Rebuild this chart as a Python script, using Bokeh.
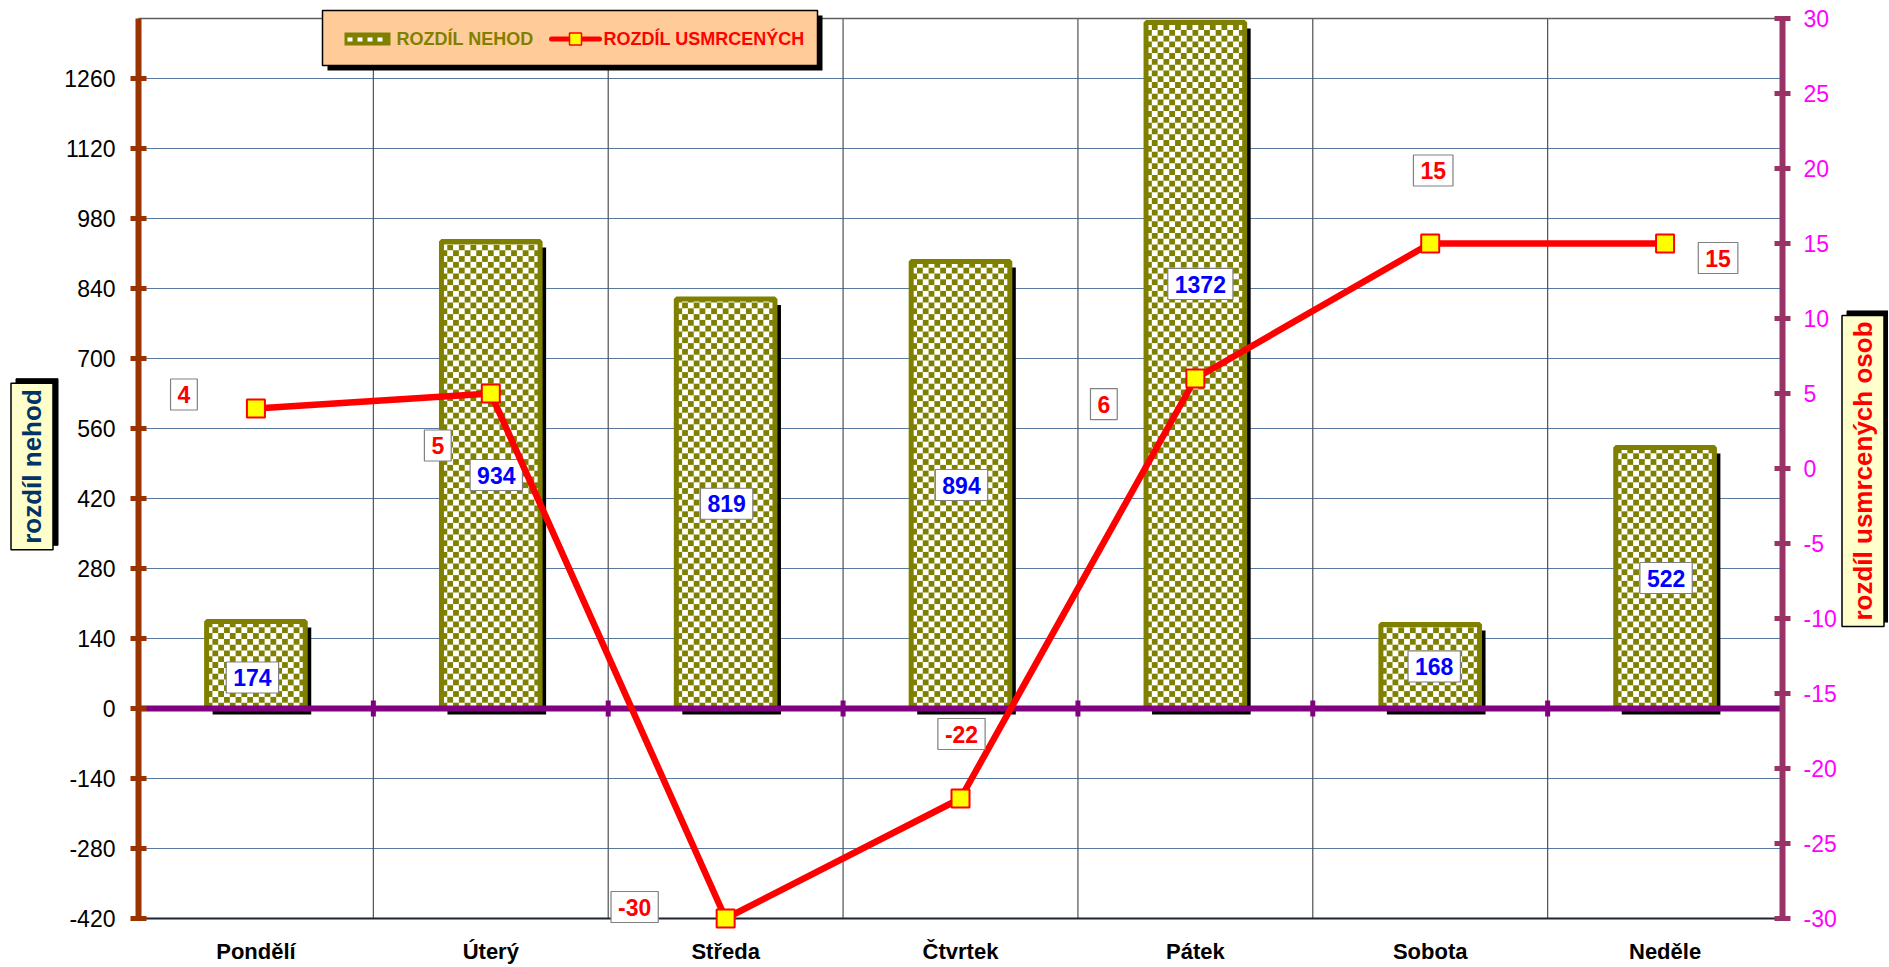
import math
from bokeh.plotting import figure
from bokeh.models import Range1d, LinearAxis, FixedTicker
from bokeh.core.properties import value
from bokeh.embed import file_html
from bokeh.resources import INLINE

# ---------------- data ----------------
days = ["Pondělí", "Úterý", "Středa", "Čtvrtek", "Pátek", "Sobota", "Neděle"]
rozdil_nehod = [174, 934, 819, 894, 1372, 168, 522]
rozdil_usmrcenych = [4, 5, -30, -22, 6, 15, 15]
left_ticks = [-420, -280, -140, 0, 140, 280, 420, 560, 700, 840, 980, 1120, 1260]
right_ticks = [-30, -25, -20, -15, -10, -5, 0, 5, 10, 15, 20, 25, 30]
series_names = ["ROZDÍL NEHOD", "ROZDÍL USMRCENÝCH"]
axis_titles = ["rozdíl nehod", "rozdíl usmrcených osob"]

# ---------------- geometry (canvas pixels) ----------------
W, H = 1888, 966
AXL, AXR = 138.0, 1782.0      # left / right value axis x
Y0_PX, LSCALE = 708.0, 0.5    # left-axis zero line, px per unit
N = len(days)
L_MIN, L_MAX = -420, 1380
R_MIN, R_MAX = -30, 30
RSCALE = (918.0 - 18.0) / (R_MAX - R_MIN)   # px per right unit
R0_PX = 918.0 - (0 - R_MIN) * RSCALE        # right-axis zero

def X(sx):
    return (sx - AXL) / (AXR - AXL) * N

def Y(sy):
    return (Y0_PX - sy) / LSCALE

def RY(sy):
    return (R0_PX - sy) / RSCALE

PX_X = N / (AXR - AXL)
PX_L = 1 / LSCALE
PX_R = 1 / RSCALE

FONT_NAME = "Liberation Sans"
FONT = value(FONT_NAME)
OLIVE = "#808000"

p = figure(width=W, height=H, x_range=Range1d(X(0), X(W)), y_range=Range1d(Y(H), Y(0)),
           output_backend="svg", toolbar_location=None, title=None, min_border=0)
p.outline_line_color = None
p.background_fill_color = "white"
p.xgrid.visible = False
p.ygrid.visible = False
p.xaxis.visible = False
p.extra_y_ranges = {"right": Range1d(RY(H), RY(0))}

# ---------------- value axes ----------------
ya = p.yaxis[0]
ya.fixed_location = 0
ya.ticker = FixedTicker(ticks=left_ticks)
ya.major_label_overrides = {t: str(t) for t in left_ticks}
ya.bounds = (L_MIN, L_MAX)
ya.axis_line_color = "#993300"
ya.axis_line_width = 6
ya.major_tick_line_color = "#993300"
ya.major_tick_line_width = 5
ya.major_tick_in = 8
ya.major_tick_out = 8
ya.minor_tick_line_color = None
ya.major_label_text_font = FONT_NAME
ya.major_label_text_font_size = "23px"
ya.major_label_text_color = "black"
ya.major_label_standoff = 15

ra = LinearAxis(y_range_name="right", fixed_location=N)
ra.ticker = FixedTicker(ticks=right_ticks)
ra.major_label_overrides = {t: str(t) for t in right_ticks}
ra.bounds = (R_MIN, R_MAX)
ra.axis_line_color = "#993366"
ra.axis_line_width = 6
ra.major_tick_line_color = "#993366"
ra.major_tick_line_width = 5
ra.major_tick_in = 8
ra.major_tick_out = 8
ra.minor_tick_line_color = None
ra.major_label_text_font = FONT_NAME
ra.major_label_text_font_size = "23px"
ra.major_label_text_color = "#FF00FF"
ra.major_label_standoff = 13
p.add_layout(ra, "right")

centers = [i + 0.5 for i in range(N)]

# ---------------- grid ----------------
grid_vals = [t for t in left_ticks if t not in (L_MIN, 0)]
p.segment(x0=[0] * len(grid_vals), x1=[N] * len(grid_vals), y0=grid_vals, y1=grid_vals,
          line_color="#5878A0", line_width=1.2)
p.segment(x0=list(range(1, N)), x1=list(range(1, N)),
          y0=[L_MIN] * (N - 1), y1=[L_MAX] * (N - 1),
          line_color="#505050", line_width=1.2)
p.segment(x0=[0], x1=[N], y0=[L_MAX], y1=[L_MAX], line_color="#606060", line_width=1.5)
p.segment(x0=[0], x1=[N], y0=[L_MIN], y1=[L_MIN], line_color="#1E2430", line_width=1.8)

# ---------------- bars ----------------
BW = 0.42
CELL_PX = 5.8
NC = 17
cw = BW / NC
ch = CELL_PX * PX_L
lefts = [c - BW / 2 for c in centers]
rights = [c + BW / 2 for c in centers]

sdx, sdy = 6 * PX_X, 6 * PX_L
p.quad(left=[l + sdx for l in lefts], right=[r + sdx for r in rights],
       bottom=[-sdy] * N, top=[v - sdy for v in rozdil_nehod],
       fill_color="black", line_color=None)
p.quad(left=lefts, right=rights, bottom=[0] * N, top=rozdil_nehod,
       fill_color="white", line_color=None)

cl, cr, cb, ct = [], [], [], []
for i, v in enumerate(rozdil_nehod):
    nr = int(math.ceil(v / ch))
    for j in range(nr):
        for k in range(NC):
            if (j + k) % 2 == 0:
                cl.append(lefts[i] + k * cw)
                cr.append(lefts[i] + (k + 1) * cw)
                cb.append(j * ch)
                ct.append(min((j + 1) * ch, v))
p.quad(left=cl, right=cr, bottom=cb, top=ct, fill_color=OLIVE, line_color=None)
p.quad(left=lefts, right=rights, bottom=[0] * N, top=rozdil_nehod,
       fill_color=None, line_color=OLIVE, line_width=5)

# zero line with category ticks
p.segment(x0=[0], x1=[N], y0=[0], y1=[0], line_color="#800080", line_width=6)
p.segment(x0=list(range(N + 1)), x1=list(range(N + 1)),
          y0=[-8 * PX_L] * (N + 1), y1=[8 * PX_L] * (N + 1),
          line_color="#800080", line_width=5)

# category labels
p.text(x=centers, y=[Y(951)] * N, text=days, text_font=FONT, text_font_style="bold",
       text_font_size="22px", text_color="black", text_align="center",
       text_baseline="middle")

# bar value labels (Excel placed them near the bar middle; a few were moved by hand)
bar_label_dx_px = [-3.5, 5.5, 1, 1, 5, 4, 1]
bar_label_y_override = {0: 62, 4: 849}
blx = [c + dx * PX_X for c, dx in zip(centers, bar_label_dx_px)]
bly = [bar_label_y_override.get(i, v / 2) for i, v in enumerate(rozdil_nehod)]
p.text(x=blx, y=bly, text=[str(v) for v in rozdil_nehod],
       text_font=FONT, text_font_style="bold", text_font_size="23px",
       text_color="#0000FF", text_align="center", text_baseline="middle",
       background_fill_color="white", border_line_color="#808080",
       border_line_width=1.2, padding=7)

# ---------------- line series ----------------
p.line(centers, rozdil_usmrcenych, y_range_name="right", line_color="#FF0000", line_width=6.5,
       line_join="round")
p.scatter(centers, rozdil_usmrcenych, y_range_name="right", marker="square", size=18,
          fill_color="#FFFF00", line_color="#FF0000", line_width=2)

line_label_offsets_px = [(-72, -14), (-53, 52), (-91, -11.5), (1, -64.5),
                         (-91.5, 25.6), (3, -73), (53, 14.5)]
llx = [c + dx * PX_X for c, (dx, dy) in zip(centers, line_label_offsets_px)]
lly = [v - dy * PX_R for v, (dx, dy) in zip(rozdil_usmrcenych, line_label_offsets_px)]
p.text(x=llx, y=lly, text=[str(v) for v in rozdil_usmrcenych], y_range_name="right",
       text_font=FONT, text_font_style="bold", text_font_size="23px",
       text_color="#FF0000", text_align="center", text_baseline="middle",
       background_fill_color="white", border_line_color="#808080",
       border_line_width=1.2, padding=7)

# ---------------- legend (drawn) ----------------
p.quad(left=[X(327)], right=[X(822)], top=[Y(15)], bottom=[Y(70)],
       fill_color="black", line_color=None)
p.quad(left=[X(322)], right=[X(817)], top=[Y(10)], bottom=[Y(65)],
       fill_color="#FFCC99", line_color="black", line_width=1.5)
p.quad(left=[X(344)], right=[X(390)], top=[Y(32)], bottom=[Y(45)],
       fill_color=OLIVE, line_color=None)
icx = [344 + 3 + k * 5 for k in range(0, 8, 2)]
p.quad(left=[X(a) for a in icx], right=[X(a + 5) for a in icx],
       top=[Y(37)] * len(icx), bottom=[Y(41)] * len(icx),
       fill_color="white", line_color=None)
p.text(x=[X(396)], y=[Y(38.5)], text=[series_names[0]], text_font=FONT,
       text_font_style="bold", text_font_size="18px", text_color=OLIVE,
       text_align="left", text_baseline="middle")
p.segment(x0=[X(551)], x1=[X(599)], y0=[Y(38.5)], y1=[Y(38.5)],
          line_color="#FF0000", line_width=5, line_cap="round")
p.scatter([X(575)], [Y(38.5)], marker="square", size=12,
          fill_color="#FFFF00", line_color="#FF0000", line_width=1.5)
p.text(x=[X(603)], y=[Y(38.5)], text=[series_names[1]], text_font=FONT,
       text_font_style="bold", text_font_size="18px", text_color="#FF0000",
       text_align="left", text_baseline="middle")

# ---------------- axis titles (boxed, rotated) ----------------
def boxed_title(cx, cy, txt, color):
    p.text(x=[X(cx + 5)], y=[Y(cy - 4.5)], text=[txt], angle=math.pi / 2,
           text_font=FONT, text_font_style="bold", text_font_size="26px",
           text_color="black", text_align="center", text_baseline="middle",
           background_fill_color="black", border_line_color="black", padding=6)
    p.text(x=[X(cx)], y=[Y(cy)], text=[txt], angle=math.pi / 2,
           text_font=FONT, text_font_style="bold", text_font_size="26px",
           text_color=color, text_align="center", text_baseline="middle",
           background_fill_color="#FFFFCC", border_line_color="black",
           border_line_width=1.5, padding=6)

boxed_title(31.5, 466, axis_titles[0], "#003366")
boxed_title(1862.5, 470.5, axis_titles[1], "#FF0000")

open("out.html", "w").write(file_html(p, INLINE))
